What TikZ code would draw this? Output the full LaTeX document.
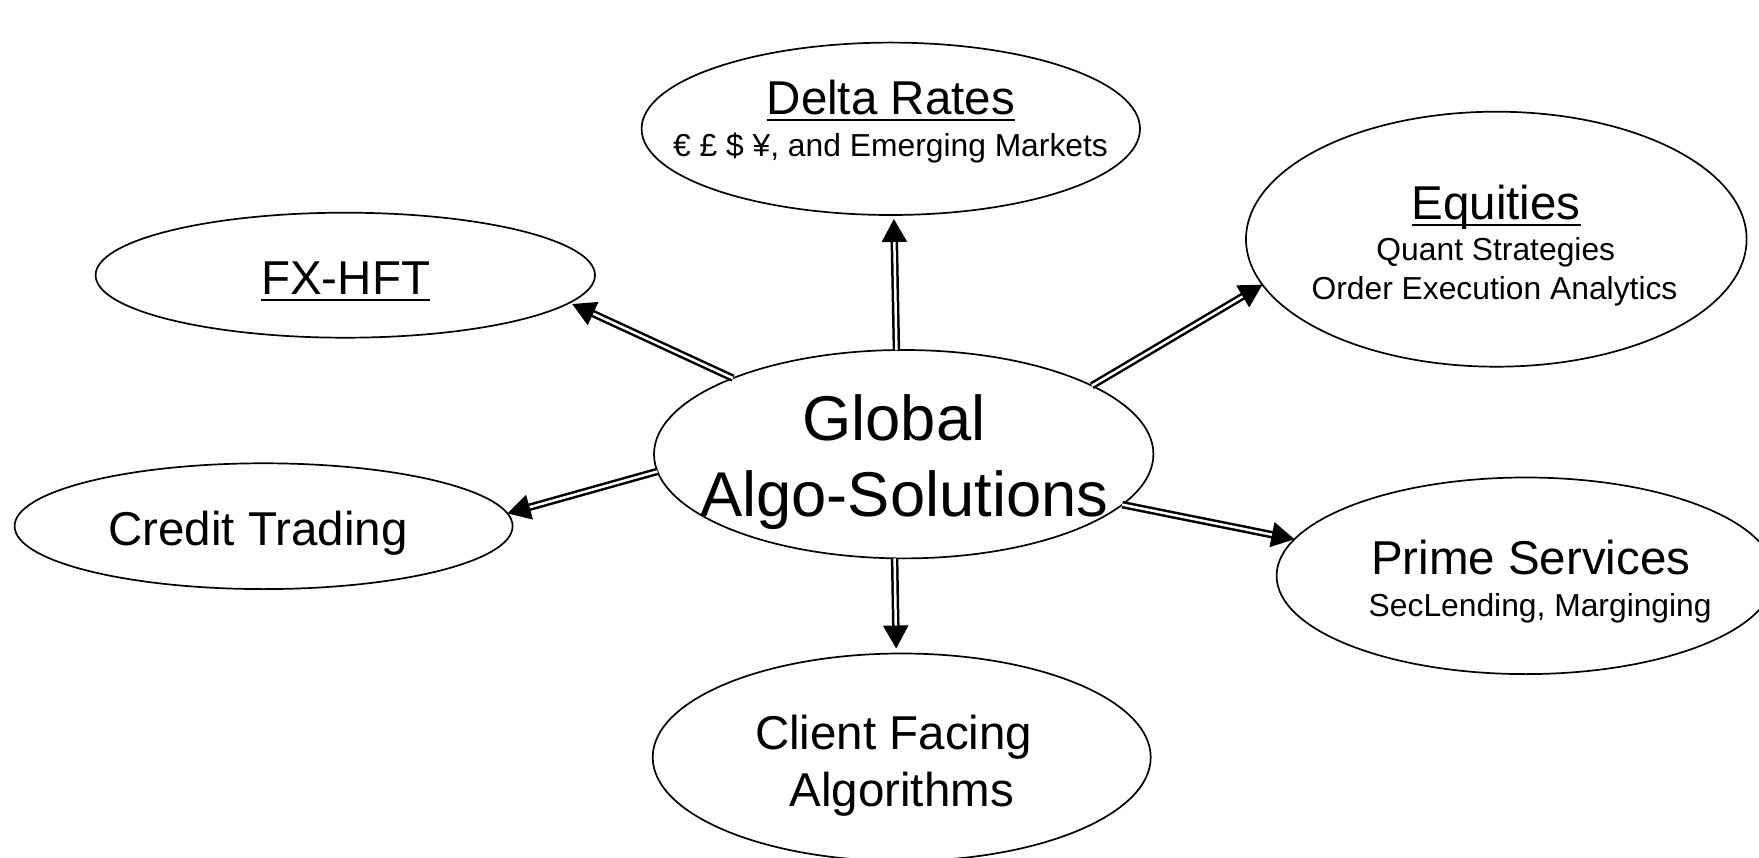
\documentclass[tikz,border=0pt]{standalone}
\usepackage{fontspec}
\setmainfont{Liberation Sans}
\usetikzlibrary{shapes.geometric,arrows.meta}

% underline drawn as a rule of fixed thickness below the baseline
\newsavebox\ulinebox
\newcommand\ulinetext[1]{\sbox\ulinebox{#1}\rlap{\raisebox{-6.4pt}{\rule{\wd\ulinebox}{2.6pt}}}\usebox\ulinebox}

\tikzset{
  area/.style={ellipse, draw, line width=1.7pt, inner sep=0pt, outer sep=0pt},
  big/.style={anchor=base, inner sep=0pt, font=\fontsize{63.3}{70}\selectfont},
  head/.style={anchor=base, inner sep=0pt, font=\fontsize{47.5}{54}\selectfont},
  sub/.style={anchor=base, inner sep=0pt, font=\fontsize{31.8}{38}\selectfont},
  conn/.style={double, line width=2.5pt, double distance=2.5pt,
               -{Triangle[width=25pt,length=23pt]}}
}

\begin{document}
\begin{tikzpicture}[x=1pt,y=-1pt]
\useasboundingbox (0,0) rectangle (1759,858);
\clip (0,0) rectangle (1759,858);

% ellipses
\node[area, minimum width=498.4pt, minimum height=172.4pt] (d) at (890.8,128.8) {};
\node[area, minimum width=500.6pt, minimum height=255pt]   (e) at (1496.3,239.2) {};
\node[area, minimum width=499.4pt, minimum height=125pt]   (f) at (345.3,275.2) {};
\node[area, minimum width=499.4pt, minimum height=208.4pt] (g) at (903.7,454.2) {};
\node[area, minimum width=498pt,   minimum height=125.8pt] (c) at (263.6,526.2) {};
\node[area, minimum width=498pt,   minimum height=196.6pt] (p) at (1525.6,575.8) {};
\node[area, minimum width=498pt,   minimum height=207.6pt] (a) at (901.7,757.3) {};

% texts
\node[head] (dt1) at (890.8,115) {\ulinetext{Delta Rates}};
\node[sub]  (dt2) at (890.5,156.7) {€ £ \$ ¥, and Emerging Markets};
\node[head] (et1) at (1496.2,220) {\ulinetext{Equities}};
\node[sub]  (et2) at (1495.8,261) {Quant Strategies};
\node[sub]  (et3) at (1494.5,300) {Order Execution Analytics};
\node[head] (ft1) at (345.7,295) {\ulinetext{FX-HFT}};
\node[big]  (gt1) at (893.8,440) {Global};
\node[big]  (gt2) at (904.2,516) {Algo-Solutions};
\node[head] (ct1) at (258,545) {Credit Trading};
\node[head] (pt1) at (1530.8,574) {Prime Services};
\node[sub]  (pt2) at (1540.2,616) {SecLending, Marginging};
\node[head] (at1) at (893.7,749) {Client Facing};
\node[head] (at2) at (901.7,806) {Algorithms};

% connectors
\draw[conn, shorten >=4pt] (g.94.74) -- (d.272.66);
\draw[conn, shorten >=5pt] (g.265.2) -- (a.93.54);
\draw[conn, shorten >=3pt] (g.156.47) -- (f.353.35);
\draw[conn] (g.184.78) -- (c.3.87);
\draw[conn] (g.20.05) -- (e.191.6);
\draw[conn] (g.347.67) -- (p.171.7);
\end{tikzpicture}
\end{document}
